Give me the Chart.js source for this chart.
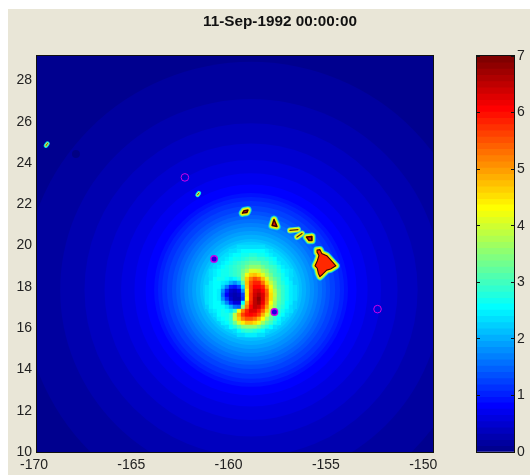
<!DOCTYPE html>
<html>
<head>
<meta charset="utf-8">
<script src="https://cdn.jsdelivr.net/npm/chart.js@4/dist/chart.umd.js"></script>
<style>
  html, body { margin: 0; padding: 0; background: #fff; overflow: hidden; }
  #frame { position: absolute; left: 8px; top: 9px; width: 522px; height: 466px; background: #e9e6d7; }
  #title { position: absolute; left: 180px; width: 200px; top: 12px; text-align: center; font: bold 15.3px "Liberation Sans", sans-serif; color: #111; white-space: nowrap; }
  canvas { position: absolute; top: 0; }
</style>
</head>
<body>
<div id="frame"></div>
<canvas id="mapChart" width="460" height="475" style="left:0"></canvas>
<canvas id="barChart" width="90" height="475" style="left:440px"></canvas>
<div id="title">11-Sep-1992 00:00:00</div>
<script>
// lower edge of each colour band
const colorLevels = [0, 0.11, 0.22, 0.33, 0.44, 0.55, 0.66, 0.77, 0.88, 0.98, 1.09, 1.2, 1.31, 1.42, 1.53, 1.64,
  1.75, 1.86, 1.97, 2.08, 2.19, 2.3, 2.41, 2.52, 2.63, 2.73, 2.84, 2.95, 3.06, 3.17, 3.28, 3.39,
  3.5, 3.61, 3.72, 3.83, 3.94, 4.05, 4.16, 4.27, 4.38, 4.48, 4.59, 4.7, 4.81, 4.92, 5.03, 5.14,
  5.25, 5.36, 5.47, 5.58, 5.69, 5.8, 5.91, 6.02, 6.13, 6.23, 6.34, 6.45, 6.56, 6.67, 6.78, 6.89];

// outer field: rings round the storm (radius in degrees of longitude)
const stormLon = -159.0;
const stormLat = 17.85;
const ringRadius = [16.4, 11.72, 9.81, 8.56, 7.53, 6.68, 5.99, 5.42, 4.98, 4.78, 4.57, 4.32, 4.06, 3.85, 3.65, 3.44, 3.24, 3.03, 2.83, 2.62, 2.47, 2.31, 2.16, 2.0];
const ringValue = [0.05, 0.16, 0.27, 0.38, 0.49, 0.6, 0.71, 0.82, 0.93, 1.04, 1.15, 1.26, 1.37, 1.48, 1.59, 1.7, 1.81, 1.91, 2.02, 2.13, 2.24, 2.35, 2.46, 2.57];

// storm core: cells
const coreLons = [-161.26, -161.06, -160.85, -160.65, -160.44, -160.24, -160.03, -159.83, -159.62, -159.41, -159.21, -159.0, -158.8, -158.59, -158.39, -158.18, -157.98, -157.77, -157.57, -157.36, -157.16, -156.95, -156.75];
const coreLats = [19.93, 19.73, 19.54, 19.35, 19.15, 18.96, 18.77, 18.57, 18.38, 18.19, 17.99, 17.8, 17.61, 17.41, 17.22, 17.03, 16.83, 16.64, 16.45, 16.25, 16.06, 15.87, 15.67];
const _ = null;
const coreValues = [
  [_,_,_,_,_,_,_,_,2.35,2.35,2.35,2.35,2.35,2.35,2.35,_,_,_,_,_,_,_,_],
  [_,_,_,_,_,_,2.3,2.4,2.5,2.55,2.57,2.6,2.6,2.57,2.55,2.45,2.3,_,_,_,_,_,_],
  [_,_,_,_,_,2.35,2.45,2.55,2.6,2.65,2.7,2.75,2.75,2.7,2.65,2.6,2.5,2.4,_,_,_,_,_],
  [_,_,_,_,2.3,2.45,2.55,2.65,2.7,2.8,2.85,2.95,2.95,2.9,2.85,2.75,2.65,2.55,2.4,_,_,_,_],
  [_,_,_,2.3,2.45,2.57,2.65,2.75,2.85,2.95,3.1,3.2,3.25,3.2,3.05,2.95,2.8,2.7,2.5,2.3,_,_,_],
  [_,_,2.3,2.45,2.57,2.65,2.75,2.85,2.95,3.1,3.35,3.55,3.6,3.5,3.3,3.15,3.0,2.85,2.65,2.5,2.3,_,_],
  [_,2.3,2.45,2.57,2.65,2.7,2.8,2.9,3.05,3.3,3.7,4.05,4.15,3.95,3.65,3.4,3.15,2.95,2.75,2.6,2.45,2.3,_],
  [_,2.35,2.5,2.6,2.65,2.7,2.75,2.85,3.05,3.4,4.2,4.6,4.75,4.5,4.1,3.7,3.35,3.05,2.85,2.65,2.5,2.35,_],
  [2.2,2.4,2.55,2.65,2.65,2.6,2.5,2.55,2.8,3.5,4.6,5.2,5.5,5.3,4.8,4.1,3.6,3.2,2.95,2.7,2.55,2.4,2.2],
  [2.25,2.45,2.6,2.6,2.5,2.3,2.0,1.85,2.15,3.1,4.7,5.5,5.9,5.8,5.3,4.5,3.9,3.4,3.05,2.8,2.6,2.45,2.25],
  [2.3,2.5,2.6,2.55,2.25,1.7,1.05,0.9,1.25,2.4,4.6,5.6,6.05,6.1,5.8,5.0,4.2,3.6,3.15,2.85,2.65,2.5,2.3],
  [2.3,2.5,2.6,2.5,1.85,1.0,0.5,0.4,0.6,1.8,4.4,5.6,6.25,6.4,6.1,5.4,4.4,3.8,3.25,2.9,2.65,2.5,2.3],
  [2.3,2.5,2.6,2.45,1.6,0.85,0.35,0.3,0.35,1.3,4.4,5.7,6.4,6.65,6.3,5.5,4.5,3.85,3.25,2.9,2.65,2.5,2.3],
  [2.3,2.5,2.6,2.5,1.85,1.1,0.5,0.3,0.3,1.1,4.3,5.7,6.45,6.8,6.3,5.45,4.5,3.8,3.2,2.85,2.65,2.5,2.3],
  [2.3,2.5,2.6,2.6,2.2,1.7,1.05,0.55,0.6,2.6,4.9,5.9,6.5,6.7,6.15,5.3,4.35,3.7,3.15,2.85,2.6,2.45,2.25],
  [2.25,2.45,2.6,2.6,2.55,2.35,2.0,1.55,1.5,3.4,5.2,6.1,6.5,6.4,5.8,5.0,4.1,3.5,3.05,2.75,2.55,2.4,2.2],
  [_,2.35,2.5,2.6,2.65,2.6,2.5,2.9,4.2,5.2,5.9,6.3,6.3,6.0,5.4,4.6,3.8,3.25,2.9,2.65,2.5,2.3,_],
  [_,_,2.4,2.55,2.65,2.7,2.9,3.9,4.9,5.6,6.0,6.1,5.95,5.6,4.9,4.1,3.5,3.05,2.75,2.55,2.35,_,_],
  [_,_,_,2.45,2.6,2.7,2.9,3.9,4.6,5.2,5.5,5.5,5.3,4.9,4.3,3.7,3.2,2.85,2.6,2.4,_,_,_],
  [_,_,_,_,2.45,2.6,2.75,3.3,3.95,4.4,4.7,4.75,4.5,4.2,3.7,3.25,2.95,2.7,2.45,_,_,_,_],
  [_,_,_,_,_,2.4,2.55,2.8,3.1,3.4,3.6,3.6,3.5,3.3,3.0,2.75,2.55,2.4,_,_,_,_,_],
  [_,_,_,_,_,_,_,2.4,2.6,2.75,2.85,2.85,2.8,2.7,2.55,2.4,_,_,_,_,_,_,_],
  [_,_,_,_,_,_,_,_,2.3,2.4,2.5,2.5,2.5,2.4,2.3,_,_,_,_,_,_,_,_],
];

// islands, lon/lat outlines
const hawaiiOutline = [[-155.61,19.78],[-155.46,19.8],[-155.37,19.62],[-155.11,19.51],[-154.91,19.3],[-154.64,19.02],[-154.91,18.86],[-155.11,18.81],[-155.32,18.61],[-155.46,18.49],[-155.54,18.65],[-155.6,18.9],[-155.71,19.02],[-155.6,19.25],[-155.51,19.51],[-155.6,19.67],[-155.61,19.78]];
const mauiOutline = [[-156.15,20.41],[-155.89,20.44],[-155.87,20.24],[-156.02,20.24],[-156.15,20.41]];
const oahuOutline = [[-157.82,21.26],[-157.72,21.04],[-157.67,20.92],[-157.92,20.97],[-157.82,21.26]];
const kauaiOutline = [[-159.44,21.57],[-159.36,21.69],[-159.16,21.72],[-159.21,21.6],[-159.44,21.57]];
const molokaiLine = [[-157.0,20.73],[-156.59,20.77]];
const lanaiLine = [[-156.64,20.41],[-156.38,20.58]];
const atollLines = [
  [[-169.54,24.84],[-169.46,24.94]],
  [[-161.75,22.45],[-161.68,22.54]],
];

// stations
const filledLons = [-160.9, -157.8];
const filledLats = [19.35, 16.78];
const openLons = [-162.4, -152.5];
const openLats = [23.3, 16.92];
const faintLons = [-168.0];
const faintLats = [24.43];

const xTicks = [-170, -165, -160, -155, -150];
const yTicks = [10, 12, 14, 16, 18, 20, 22, 24, 26, 28];
const barTicks = [0, 1, 2, 3, 4, 5, 6, 7];

function clamp01(v) {
  return Math.max(0, Math.min(1, v));
}
function jet(t) {
  const r = clamp01(Math.min((t - 24) / 16, (72 - t) / 16));
  const g = clamp01(Math.min((t - 8) / 16, (56 - t) / 16));
  const b = clamp01(Math.min((t + 8) / 16, (40 - t) / 16));
  return "rgb(" + Math.round(r * 255) + "," + Math.round(g * 255) + "," + Math.round(b * 255) + ")";
}
function levelColor(v) {
  let k = 0;
  while (k < colorLevels.length - 1 && colorLevels[k + 1] <= v) k++;
  return jet(k + 1);
}
function toPoints(list) {
  return list.map((p) => ({ x: p[0], y: p[1] }));
}
function zipPoints(lons, lats) {
  return lons.map((lon, i) => ({ x: lon, y: lats[i] }));
}

const boxPlugin = {
  id: "plotBox",
  afterDraw(chart) {
    const a = chart.chartArea;
    const c = chart.ctx;
    c.save();
    c.strokeStyle = "#111";
    c.lineWidth = 1;
    c.strokeRect(a.left - 0.5, a.top - 0.5, a.right - a.left + 1, a.bottom - a.top + 1);
    c.restore();
  },
};

const ringPoints = ringRadius.map((r, i) => ({ x: stormLon, y: stormLat, deg: r, v: ringValue[i] }));
const corePoints = [];
coreValues.forEach((row, j) => {
  row.forEach((v, i) => {
    if (v !== null) corePoints.push({ x: coreLons[i], y: coreLats[j], v: v });
  });
});

// bottom layer first, reversed at the end since dataset 0 draws on top
const layers = [];
layers.push({
  data: ringPoints,
  pointStyle: "circle",
  pointBorderWidth: 0,
  pointBackgroundColor: (ctx) => levelColor(ctx.raw.v),
  pointRadius: (ctx) => {
    const x = ctx.chart.scales.x;
    return Math.abs(x.getPixelForValue(stormLon + ctx.raw.deg) - x.getPixelForValue(stormLon));
  },
});
layers.push({
  data: corePoints,
  pointStyle: "rect",
  pointBorderWidth: 0,
  pointRadius: 3.05,
  pointBackgroundColor: (ctx) => levelColor(ctx.raw.v),
});
layers.push({
  data: zipPoints(faintLons, faintLats),
  pointRadius: 4,
  pointBorderWidth: 0,
  pointBackgroundColor: "rgb(0,0,132)",
});

function lineLayer(points, width, color, fillColor) {
  layers.push({
    data: toPoints(points),
    showLine: true,
    pointRadius: 0,
    borderWidth: width,
    borderColor: color,
    borderJoinStyle: "round",
    borderCapStyle: "round",
    backgroundColor: fillColor || "transparent",
    fill: fillColor ? "shape" : false,
  });
}
[hawaiiOutline, mauiOutline, oahuOutline, kauaiOutline].forEach((outline) => {
  const isHawaii = outline === hawaiiOutline;
  lineLayer(outline, 7.5, "rgb(0,205,230)");
  lineLayer(outline, 6, "rgb(120,240,120)");
  lineLayer(outline, 4.4, "rgb(245,240,0)");
  lineLayer(outline, isHawaii ? 1.1 : 1.5, "rgb(60,0,0)", isHawaii ? "rgb(255,40,0)" : "rgb(220,20,0)");
});
[molokaiLine, lanaiLine].forEach((line) => {
  lineLayer(line, 6, "rgb(60,225,190)");
  lineLayer(line, 4.2, "rgb(235,240,20)");
  lineLayer(line, 1.2, "rgb(90,40,0)");
});
atollLines.forEach((line) => {
  lineLayer(line, 4.5, "rgb(0,225,235)");
  lineLayer(line, 2.4, "rgb(240,240,40)");
  lineLayer(line, 0.8, "rgb(30,30,60)");
});

layers.push({
  data: zipPoints(filledLons, filledLats),
  pointRadius: 3.2,
  pointBorderWidth: 1.4,
  pointBorderColor: "rgb(205,0,235)",
  pointBackgroundColor: "rgb(30,0,225)",
});
layers.push({
  data: zipPoints(openLons, openLats),
  pointRadius: 3.8,
  pointBorderWidth: 1,
  pointBorderColor: "rgb(205,0,235)",
  pointBackgroundColor: "transparent",
});

const axisFont = { family: "Liberation Sans", size: 14 };

const mapChart = new Chart("mapChart", {
  type: "scatter",
  data: { datasets: layers.reverse() },
  plugins: [boxPlugin],
  options: {
    responsive: false,
    animation: false,
    events: [],
    layout: { padding: { left: 8, top: 56, right: 27, bottom: 0 } },
    plugins: { legend: { display: false }, tooltip: { enabled: false } },
    scales: {
      x: {
        type: "linear",
        min: -170,
        max: -149.65,
        afterFit: (s) => { s.height = 23; },
        afterBuildTicks: (s) => { s.ticks = xTicks.map((v) => ({ value: v })); },
        grid: { display: false, drawTicks: false },
        border: { display: false },
        ticks: { font: axisFont, color: "#222", padding: 5, maxRotation: 0, labelOffset: -3, autoSkip: false },
      },
      y: {
        type: "linear",
        min: 10,
        max: 29.18,
        afterFit: (s) => { s.width = 29; },
        afterBuildTicks: (s) => { s.ticks = yTicks.map((v) => ({ value: v })); },
        grid: { display: false, drawTicks: false },
        border: { display: false },
        ticks: { font: axisFont, color: "#222", padding: 5, autoSkip: false },
      },
    },
  },
});

// colourbar: one floating bar per band, each reaching the top so no seams show
const barChart = new Chart("barChart", {
  type: "bar",
  data: {
    labels: [""],
    datasets: colorLevels.map((edge, i) => ({
      data: [[edge, 7]],
      backgroundColor: jet(i + 1),
      borderWidth: 0,
      barPercentage: 1,
      categoryPercentage: 1,
    })).reverse(),
  },
  plugins: [boxPlugin],
  options: {
    responsive: false,
    animation: false,
    events: [],
    layout: { padding: { left: 37, top: 56, right: 0, bottom: 23 } },
    plugins: { legend: { display: false }, tooltip: { enabled: false } },
    scales: {
      x: { display: false, stacked: true },
      y: {
        position: "right",
        min: 0,
        max: 7,
        afterFit: (s) => { s.width = 16; },
        afterBuildTicks: (s) => { s.ticks = barTicks.map((v) => ({ value: v })); },
        grid: { color: "#111", drawTicks: false, z: 1 },
        border: { display: false, dash: [3, 31, 3] },
        ticks: { font: axisFont, color: "#222", padding: 3, autoSkip: false },
      },
    },
  },
});
</script>
</body>
</html>
